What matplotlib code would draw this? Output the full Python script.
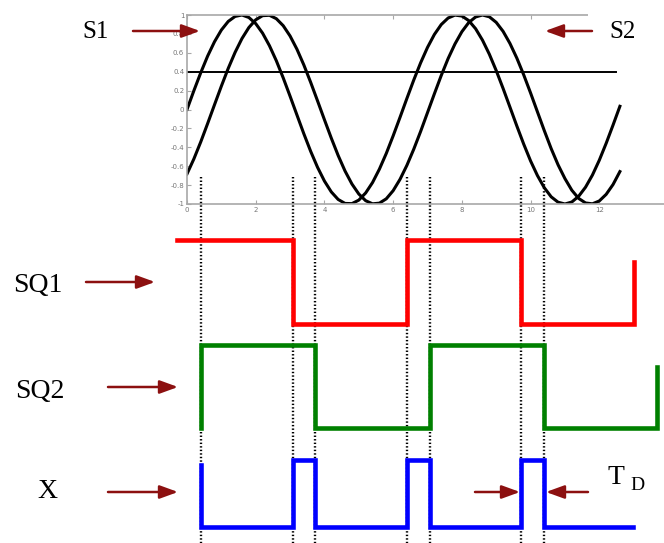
import numpy as np
import matplotlib
matplotlib.use("Agg")
import matplotlib.pyplot as plt
from matplotlib.patches import Rectangle
from matplotlib.ticker import FuncFormatter

# sine inputs (one value every 0.2)
t = np.linspace(0, 12.6, 64)
s1 = [0.000, 0.199, 0.389, 0.565, 0.717, 0.841, 0.932, 0.985, 1.000, 0.974,
      0.909, 0.808, 0.675, 0.516, 0.335, 0.141, -0.058, -0.256, -0.443, -0.612,
      -0.757, -0.872, -0.952, -0.994, -0.996, -0.959, -0.883, -0.773, -0.631, -0.465,
      -0.279, -0.083, 0.117, 0.312, 0.494, 0.657, 0.794, 0.899, 0.968, 0.999,
      0.989, 0.941, 0.855, 0.734, 0.585, 0.412, 0.223, 0.025, -0.174, -0.366,
      -0.544, -0.699, -0.828, -0.924, -0.981, -1.000, -0.979, -0.918, -0.822, -0.694,
      -0.537, -0.358, -0.165, 0.034]
s2 = [-0.682, -0.523, -0.343, -0.149, 0.050, 0.247, 0.435, 0.605, 0.751, 0.867,
      0.949, 0.993, 0.997, 0.961, 0.887, 0.778, 0.638, 0.472, 0.287, 0.091,
      -0.108, -0.303, -0.487, -0.651, -0.788, -0.894, -0.965, -0.998, -0.991, -0.945,
      -0.859, -0.739, -0.591, -0.420, -0.232, -0.033, 0.166, 0.360, 0.539, 0.694,
      0.823, 0.920, 0.979, 1.000, 0.981, 0.922, 0.827, 0.699, 0.544, 0.367,
      0.175, -0.025, -0.224, -0.414, -0.585, -0.731, -0.854, -0.941, -0.989, -0.998,
      -0.968, -0.898, -0.794, -0.657]
threshold = 0.4

# switching instants (dotted markers) and the square waves
edges = [0.41, 3.08, 3.73, 6.40, 7.07, 9.72, 10.39]
sq1_t = [-0.29, 3.08, 6.40, 9.72, 13.01]
sq1_v = [1, 0, 1, 0, 0.74]
sq2_t = [0.41, 0.41, 3.73, 7.07, 10.39, 13.68]
sq2_v = [0, 1, 0, 1, 0, 0.73]
x_t = [0.41, 0.41, 3.08, 3.73, 6.40, 7.07, 9.72, 10.39, 12.98]
x_v = [0.93, 0, 1, 0, 1, 0, 1, 0, 0]

W, H = 664, 543
fig = plt.figure(figsize=(W / 100, H / 100), dpi=100)
serif = "Liberation Serif"
arrow_col = "#8c1010"
grey = "#a8a8a8"

# top panel with the sines
L, R, T, B = 187, 668, 15, 204
ax = fig.add_axes([L / W, (H - B) / H, (R - L) / W, (B - T) / H])
ax.plot(t, s1, color="black", lw=2.2)
ax.plot(t, s2, color="black", lw=2.2)
ax.plot([t[0], 12.5], [threshold, threshold], color="black", lw=1.4)
ax.set_xlim(0, 14)
ax.set_ylim(-1, 1)
ax.set_xticks(np.arange(0, 15, 2))
ax.set_yticks(np.arange(-1, 1.01, 0.2))
ax.yaxis.set_major_formatter(FuncFormatter(lambda v, p: "%g" % (round(v, 1) + 0.0)))
ax.tick_params(direction="in", length=3, width=0.8, color=grey, labelcolor="#777777",
               labelsize=5, top=True, right=True, pad=2)
for sp in ax.spines.values():
    sp.set_color(grey)
    sp.set_linewidth(1.2)

# lower panel, same time axis, rows measured from the top of the figure
axw = fig.add_axes([L / W, 0, (R - L) / W, 1])
axw.set_xlim(0, 14)
axw.set_ylim(H, 0)
axw.axis("off")
axw.vlines(edges, 177, H, colors="black", linestyles=(0, (0.6, 0.9)), lw=1.7)


def wave(tt, vv, high, low, color):
    vv = np.array(vv)
    axw.step(tt, low - (low - high) * vv, where="post", color=color, lw=3.3,
             clip_on=False, solid_joinstyle="miter")


wave(sq1_t, sq1_v, 240, 324, "#ff0000")
wave(sq2_t, sq2_v, 345, 428, "#008000")
wave(x_t, x_v, 460, 527, "#0000ff")

# labels and arrows in pixel coordinates
axl = fig.add_axes([0, 0, 1, 1])
axl.set_xlim(0, W)
axl.set_ylim(H, 0)
axl.axis("off")
axl.add_patch(Rectangle((588, 0), 76, 46, facecolor="white", edgecolor="none"))

labels = [("S1", 96, 32, 18), ("S2", 623, 32, 18), ("SQ1", 38, 286, 20),
          ("SQ2", 40, 392, 20), ("X", 47, 492, 20), ("T", 616, 477, 20)]
for txt, x, y, fs in labels:
    axl.text(x, y, txt, fontsize=fs, family=serif, ha="center", va="center")
axl.text(637, 486, "D", fontsize=14, family=serif, ha="center", va="center")

arrows = [((133, 31), (200, 31)), ((592, 31), (545, 31)), ((86, 282), (155, 282)),
          ((108, 387), (178, 387)), ((108, 492), (178, 492)),
          ((475, 492), (520, 492)), ((588, 492), (546, 492))]
for (x0, y0), (x1, y1) in arrows:
    axl.annotate("", xy=(x1, y1), xytext=(x0, y0),
                 arrowprops=dict(arrowstyle="-|>,head_length=1.1,head_width=0.4",
                                 color=arrow_col, lw=1.8, mutation_scale=10,
                                 shrinkA=0, shrinkB=0))

fig.savefig("out.png", dpi=100)
